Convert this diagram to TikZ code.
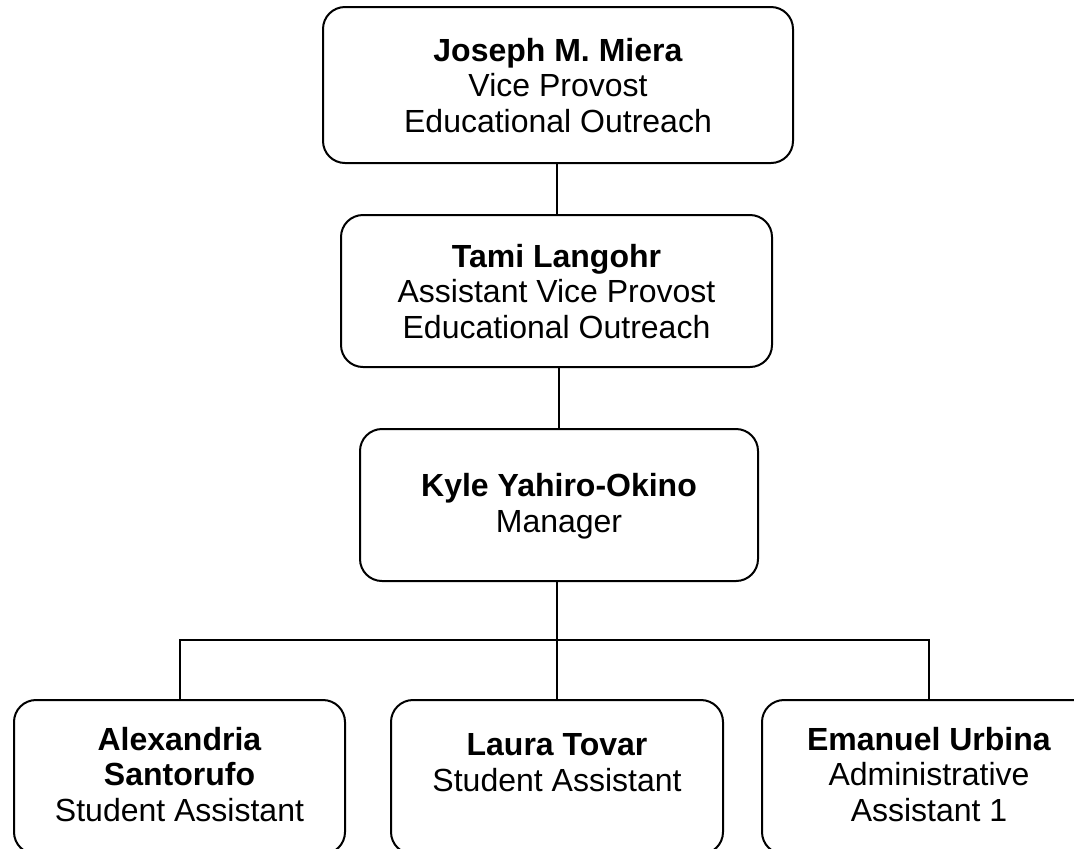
\documentclass[tikz,border=0pt]{standalone}
\usepackage{fontspec}
\setmainfont{Liberation Sans}
\begin{document}
\begin{tikzpicture}[x=0.5pt,y=-0.5pt,
  line width=1pt,box/.style={draw,rounded corners=11pt,align=center,
  font=\fontsize{16}{17.8}\selectfont,text depth=0pt,inner sep=0pt}]

  \useasboundingbox (0,0) rectangle (1074,848);
  \clip (0,0) rectangle (1074,848);

  \node[box,minimum width=235pt,minimum height=78pt] (vp) at (558,85)
    {\textbf{Joseph M. Miera}\\Vice Provost\\Educational Outreach};
  \node[box,minimum width=215.5pt,minimum height=76pt] (avp) at (556.5,291)
    {\textbf{Tami Langohr}\\Assistant Vice Provost\\Educational Outreach};
  \node[box,minimum width=199pt,minimum height=76pt,text depth=2pt] (mgr) at (559,505)
    {\textbf{Kyle Yahiro-Okino}\\Manager};

  \node[box,minimum width=165.5pt,minimum height=77pt,text depth=3pt] (sa1) at (179.5,777)
    {\textbf{Alexandria}\\\textbf{Santorufo}\\Student Assistant};
  \node[box,minimum width=166pt,minimum height=77pt,text depth=14.5pt] (sa2) at (557,777)
    {\textbf{Laura Tovar}\\Student Assistant};
  \node[box,minimum width=167pt,minimum height=77pt,text depth=3pt] (adm) at (929,777)
    {\textbf{Emanuel Urbina}\\Administrative\\Assistant 1};

  \coordinate (bus) at (557,640);

  \draw (vp.south -| avp.north) -- (avp.north);
  \draw (mgr.north |- avp.south) -- (mgr.north);
  \draw (mgr.south -| bus) -- (bus);
  \draw (sa1.north) |- (bus) -| (adm.north);
  \draw (bus) -- (sa2.north);
\end{tikzpicture}
\end{document}
